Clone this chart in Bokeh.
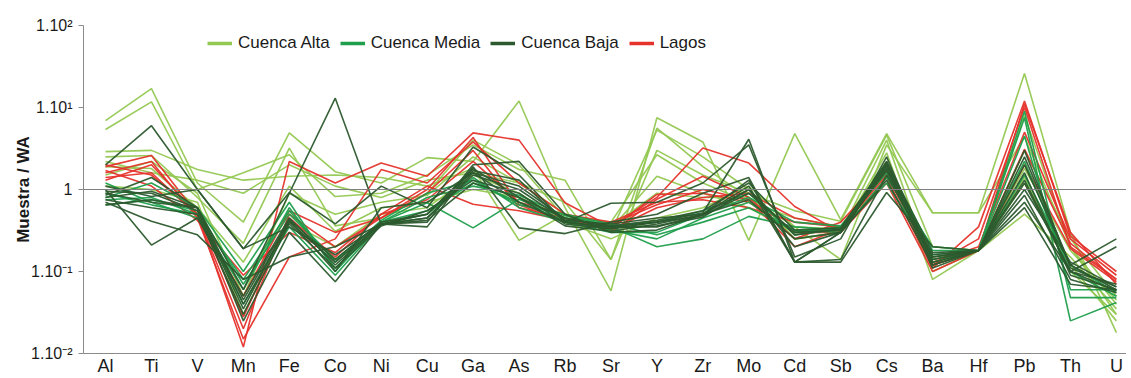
from bokeh.plotting import figure
from bokeh.models import Range1d, FixedTicker, Span, Legend, LegendItem, ColumnDataSource
from bokeh.embed import file_html
from bokeh.resources import INLINE

elements = ["Al", "Ti", "V", "Mn", "Fe", "Co", "Ni", "Cu", "Ga", "As", "Rb", "Sr",
            "Y", "Zr", "Mo", "Cd", "Sb", "Cs", "Ba", "Hf", "Pb", "Th", "U"]

# Normalised concentrations (Muestra / WA), one list per sample, in element order
cuenca_alta = [
    [6.9, 17, 1.2, 0.4, 4.9, 1.65, 1.2, 2.45, 2.2, 12, 0.6, 0.058, 7.5, 3.8, 0.24, 4.8, 0.43, 4.8, 0.52, 0.52, 26, 0.3, 0.018],
    [5.4, 11.7, 1.0, 1.6, 2.65, 0.82, 0.9, 1.5, 3.5, 1.75, 1.3, 0.14, 5.6, 1.9, 0.8, 0.35, 0.14, 3.5, 0.52, 0.52, 4.4, 0.2, 0.03],
    [2.9, 3.0, 1.75, 1.3, 1.45, 1.5, 1.4, 1.1, 1.8, 0.24, 0.5, 0.3, 5.3, 2.5, 1.0, 0.25, 0.3, 2.8, 0.08, 0.18, 1.2, 0.12, 0.025],
    [2.5, 2.6, 0.8, 0.22, 3.2, 0.36, 0.45, 0.9, 4.0, 2.0, 0.45, 0.4, 2.65, 1.2, 0.7, 0.45, 0.35, 2.2, 0.15, 0.18, 0.5, 0.15, 0.035],
    [1.9, 1.8, 0.6, 0.13, 1.1, 0.31, 0.6, 0.7, 1.0, 0.8, 0.45, 0.33, 1.45, 0.9, 0.6, 0.3, 0.32, 1.6, 0.12, 0.18, 1.8, 0.18, 0.045],
    [1.5, 2.2, 0.9, 0.05, 0.9, 0.5, 0.7, 0.85, 2.5, 1.2, 0.5, 0.35, 0.9, 0.8, 0.8, 0.25, 0.3, 4.0, 0.1, 0.18, 8.0, 0.2, 0.04],
    [1.1, 1.0, 0.7, 0.03, 0.4, 0.2, 0.5, 0.6, 1.5, 0.9, 0.4, 0.25, 0.45, 0.6, 1.1, 0.35, 0.33, 2.0, 0.13, 0.18, 3.0, 0.25, 0.05],
    [2.2, 1.6, 1.3, 0.9, 2.0, 1.1, 0.8, 1.3, 1.6, 1.2, 0.7, 0.14, 3.0, 1.5, 0.9, 0.55, 0.41, 4.6, 0.2, 0.18, 1.4, 0.1, 0.03],
]

cuenca_media = [
    [0.65, 0.75, 0.55, 0.07, 0.5, 0.14, 0.4, 0.69, 0.34, 0.76, 0.45, 0.35, 0.2, 0.25, 0.47, 0.35, 0.32, 1.2, 0.16, 0.18, 7.5, 0.025, 0.042],
    [0.8, 1.2, 0.6, 0.1, 0.7, 0.1, 0.4, 0.55, 1.2, 0.7, 0.42, 0.32, 0.25, 0.45, 0.7, 0.3, 0.35, 1.8, 0.14, 0.18, 9.0, 0.048, 0.048],
    [0.9, 0.65, 0.5, 0.04, 0.35, 0.09, 0.38, 0.5, 1.4, 0.6, 0.4, 0.3, 0.3, 0.5, 0.8, 0.4, 0.36, 1.6, 0.13, 0.18, 4.5, 0.06, 0.06],
    [1.2, 0.7, 0.45, 0.06, 0.6, 0.11, 0.4, 0.8, 1.1, 0.85, 0.48, 0.36, 0.4, 0.55, 0.9, 0.28, 0.33, 2.0, 0.18, 0.18, 2.2, 0.1, 0.05],
    [0.75, 0.8, 0.5, 0.08, 0.55, 0.13, 0.42, 0.9, 1.3, 0.65, 0.5, 0.38, 0.28, 0.4, 0.6, 0.32, 0.3, 1.4, 0.2, 0.18, 1.5, 0.12, 0.055],
]

cuenca_baja = [
    [0.8, 0.95, 0.6, 0.06, 0.9, 13, 0.38, 0.45, 1.6, 0.7, 0.4, 0.35, 0.35, 0.5, 1.3, 0.13, 0.14, 1.5, 0.15, 0.18, 1.2, 0.1, 0.07],
    [2.0, 6.0, 1.0, 0.19, 0.35, 0.16, 0.38, 0.5, 1.8, 0.8, 0.45, 0.35, 0.4, 0.52, 4.1, 0.13, 0.3, 2.0, 0.14, 0.18, 2.0, 0.12, 0.25],
    [1.0, 0.21, 0.45, 0.05, 0.45, 0.12, 0.38, 0.4, 2.0, 2.2, 0.5, 0.3, 0.32, 0.5, 1.1, 0.13, 0.3, 1.8, 0.16, 0.18, 0.7, 0.1, 0.2],
    [0.7, 0.41, 0.28, 0.08, 0.15, 0.2, 0.38, 0.35, 1.9, 0.34, 0.29, 0.4, 0.5, 0.9, 1.4, 0.13, 0.13, 0.92, 0.2, 0.18, 0.6, 0.07, 0.06],
    [1.1, 0.82, 1.0, 0.19, 0.92, 0.38, 1.1, 0.6, 3.3, 1.5, 0.4, 0.68, 0.7, 1.2, 3.5, 0.15, 0.25, 2.5, 0.12, 0.18, 1.0, 0.13, 0.065],
    [0.85, 1.4, 0.6, 0.04, 0.4, 0.13, 0.38, 0.45, 1.5, 1.0, 0.42, 0.38, 0.45, 0.5, 1.0, 0.28, 0.33, 2.2, 0.17, 0.18, 3.0, 0.11, 0.065],
    [0.75, 0.6, 0.5, 0.03, 0.38, 0.11, 0.36, 0.55, 1.3, 0.9, 0.38, 0.33, 0.4, 0.48, 0.9, 0.3, 0.32, 1.7, 0.13, 0.18, 1.6, 0.09, 0.06],
    [0.95, 0.9, 0.55, 0.035, 0.42, 0.1, 0.6, 0.7, 1.6, 1.1, 0.44, 0.36, 0.42, 0.55, 1.2, 0.32, 0.34, 2.1, 0.15, 0.18, 1.3, 0.1, 0.058],
    [0.65, 0.75, 0.6, 0.025, 0.3, 0.075, 0.38, 0.42, 1.2, 0.8, 0.36, 0.31, 0.38, 0.5, 0.75, 0.25, 0.3, 1.3, 0.12, 0.18, 0.85, 0.08, 0.055],
    [0.9, 0.7, 0.6, 0.045, 0.43, 0.14, 0.4, 0.5, 1.7, 1.3, 0.4, 0.34, 0.36, 0.46, 1.0, 0.2, 0.3, 1.9, 0.11, 0.18, 2.5, 0.12, 0.06],
]

lagos = [
    [1.9, 2.6, 0.5, 0.012, 2.2, 1.2, 2.1, 1.45, 4.9, 4.0, 0.69, 0.35, 0.8, 3.2, 2.1, 0.62, 0.3, 1.4, 0.11, 0.35, 12, 0.27, 0.1],
    [1.6, 2.2, 0.45, 0.015, 0.15, 0.25, 1.75, 1.2, 3.8, 1.2, 0.5, 0.3, 0.76, 1.45, 0.8, 0.25, 0.4, 1.6, 0.12, 0.25, 10, 0.2, 0.08],
    [1.4, 1.6, 0.48, 0.02, 0.5, 0.2, 0.45, 0.9, 3.0, 0.6, 0.45, 0.33, 0.87, 0.9, 0.7, 0.3, 0.3, 1.2, 0.1, 0.18, 3.1, 0.22, 0.08],
    [2.0, 1.5, 0.5, 0.028, 0.45, 0.15, 0.5, 1.1, 0.66, 0.55, 0.42, 0.32, 0.6, 0.8, 0.9, 0.45, 0.35, 1.7, 0.13, 0.2, 5.0, 0.25, 0.09],
    [1.7, 1.1, 0.42, 0.09, 0.3, 0.17, 0.5, 0.75, 2.2, 0.7, 0.5, 0.4, 0.7, 0.75, 0.6, 0.4, 0.35, 2.0, 0.12, 0.18, 2.0, 0.19, 0.075],
    [1.3, 2.0, 0.5, 0.05, 0.55, 0.3, 0.45, 1.0, 4.3, 0.65, 0.4, 0.38, 0.65, 1.0, 0.75, 0.2, 0.33, 1.5, 0.14, 0.18, 11, 0.3, 0.07],
]

groups = ["Cuenca Alta", "Cuenca Media", "Cuenca Baja", "Lagos"]
colors = {"Cuenca Alta": "#93c852", "Cuenca Media": "#1f9e4c",
          "Cuenca Baja": "#2c5a2e", "Lagos": "#e5332c"}
series = {"Cuenca Alta": cuenca_alta, "Cuenca Media": cuenca_media,
          "Cuenca Baja": cuenca_baja, "Lagos": lagos}

y_ticks = [0.01, 0.1, 1, 10, 100]
y_tick_labels = ["1.10\u207b\u00b2", "1.10\u207b\u00b9", "1", "1.10\u00b9", "1.10\u00b2"]

FONT = "Liberation Sans"

p = figure(width=1126, height=378, y_axis_type="log", output_backend="svg",
           toolbar_location=None, min_border_left=83, min_border_right=0,
           min_border_top=25, min_border_bottom=0)
p.x_range = Range1d(-0.479, len(elements) - 1 + 0.22)
p.y_range = Range1d(0.01, 100)
p.outline_line_color = None
p.xgrid.visible = False
p.ygrid.visible = False

xs_idx = list(range(len(elements)))
draw_order = ["Cuenca Alta", "Lagos", "Cuenca Media", "Cuenca Baja"]
for g in draw_order:
    data = series[g]
    src = ColumnDataSource(dict(xs=[xs_idx for _ in data], ys=data))
    p.multi_line("xs", "ys", source=src, line_color=colors[g], line_width=1.6, line_alpha=0.95)

p.add_layout(Span(location=1, dimension="width", line_color="#7f7f7f", line_width=1))

# x axis
p.xaxis.ticker = FixedTicker(ticks=xs_idx)
p.xaxis.major_label_overrides = {i: e for i, e in enumerate(elements)}
p.xaxis.major_tick_line_color = None
p.xaxis.major_tick_in = 0
p.xaxis.major_tick_out = 0
p.xaxis.minor_tick_line_color = None
p.xaxis.minor_tick_out = 0
p.xaxis.axis_line_color = "#8a8a8a"
p.xaxis.major_label_text_font = FONT
p.xaxis.major_label_text_font_size = "18px"
p.xaxis.major_label_text_color = "#1a1a1a"
p.xaxis.major_label_standoff = 2
p.xaxis.axis_label_standoff = 0

# y axis
p.yaxis.ticker = FixedTicker(ticks=y_ticks)
p.yaxis.major_label_overrides = {t: l for t, l in zip(y_ticks, y_tick_labels)}
p.yaxis.minor_tick_line_color = None
p.yaxis.axis_line_color = "#8a8a8a"
p.yaxis.major_tick_line_color = "#8a8a8a"
p.yaxis.major_tick_in = 0
p.yaxis.major_tick_out = 5
p.yaxis.major_label_text_font = FONT
p.yaxis.major_label_text_font_size = "16px"
p.yaxis.major_label_text_color = "#1a1a1a"
p.yaxis.major_label_standoff = 6
p.yaxis.axis_label = "Muestra / WA"
p.yaxis.axis_label_text_font = FONT
p.yaxis.axis_label_text_font_style = "bold"
p.yaxis.axis_label_text_font_size = "17px"
p.yaxis.axis_label_text_color = "#1a1a1a"
p.yaxis.axis_label_standoff = -5

# legend with thicker swatches (legend-only renderers holding a single NaN point)
items = []
for g in groups:
    r = p.line(x=[0], y=[float("nan")], line_color=colors[g], line_width=3.5)
    items.append(LegendItem(label=g, renderers=[r]))
legend = Legend(items=items, orientation="horizontal", location=(124, 300),
                label_text_font=FONT, label_text_font_size="17px",
                label_text_color="#1a1a1a", glyph_width=25, glyph_height=14,
                label_standoff=6, spacing=10, padding=4, margin=0,
                border_line_color=None, background_fill_alpha=0)
p.add_layout(legend)

open("out.html", "w").write(file_html(p, INLINE))
